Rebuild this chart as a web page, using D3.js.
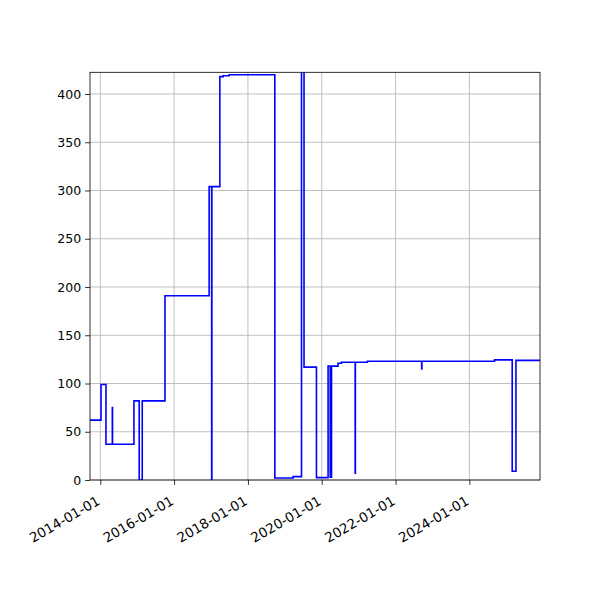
<!DOCTYPE html>
<html>
<head>
<meta charset="utf-8">
<script src="https://cdn.jsdelivr.net/npm/d3@7"></script>
<style>
  body { margin: 0; background: #fff; }
  text { font-family: "DejaVu Sans", sans-serif; }
</style>
</head>
<body>
<svg></svg>
<script>
// data (step series)
const dates = [
    '2013-09-01', '2014-01-08', '2014-02-26', '2014-04-30', '2014-05-02',
    '2014-11-30', '2015-01-21', '2015-02-20', '2015-10-03', '2016-12-13',
    '2017-01-07', '2017-01-09', '2017-03-29', '2017-05-01', '2017-06-29',
    '2018-09-24', '2019-03-24', '2019-06-15', '2019-07-10', '2019-11-10',
    '2020-03-04', '2020-03-25', '2020-04-07', '2020-06-10', '2020-07-14',
    '2020-11-27', '2020-11-29', '2021-03-28', '2022-09-16', '2022-09-18',
    '2024-09-06', '2025-02-28', '2025-04-06', '2026-01-01'
];
const values = [
    62, 99, 37, 75, 37,
    82, 0, 82, 191, 304,
    0, 304, 418, 419, 420,
    2, 3.5, 450, 117, 2.5,
    118, 3, 118, 121, 122,
    7, 122, 123, 115, 123,
    124.5, 9, 124, 124
];
const xTickLabels = ['2014-01-01', '2016-01-01', '2018-01-01', '2020-01-01', '2022-01-01', '2024-01-01'];
const yTickValues = [0, 50, 100, 150, 200, 250, 300, 350, 400];
const xDomain = ['2013-09-21', '2025-11-30'];
const yDomain = [0, 422.5];

const margin = {t: 72.3, r: 60, b: 120, l: 90};
const size = {w: 600, h: 600};
const innerW = size.w - margin.l - margin.r;
const innerH = size.h - margin.t - margin.b;

const parse = d3.utcParse('%Y-%m-%d');
const svg = d3.select('svg')
    .attr('width', size.w)
    .attr('height', size.h);

const x = d3.scaleUtc()
    .domain(xDomain.map(parse))
    .range([0, innerW]);
const y = d3.scaleLinear()
    .domain(yDomain)
    .range([innerH, 0]);

const g = svg.append('g')
    .attr('transform', `translate(${margin.l},${margin.t})`);

g.append('clipPath').attr('id', 'clip')
    .append('rect')
    .attr('width', innerW)
    .attr('height', innerH);

// grid
const xTicks = xTickLabels.map(parse);
g.append('g').selectAll('line.vx')
    .data(xTicks)
    .join('line')
    .attr('x1', d => x(d)).attr('x2', d => x(d))
    .attr('y1', 0).attr('y2', innerH)
    .attr('stroke', '#b0b0b0')
    .attr('stroke-width', 0.8);
g.append('g').selectAll('line.hy')
    .data(yTickValues)
    .join('line')
    .attr('x1', 0).attr('x2', innerW)
    .attr('y1', d => y(d)).attr('y2', d => y(d))
    .attr('stroke', '#b0b0b0')
    .attr('stroke-width', 0.8);

// series
const series = dates.map((d, i) => ({date: parse(d), value: values[i]}));
const line = d3.line()
    .x(d => x(d.date))
    .y(d => y(d.value))
    .curve(d3.curveStepAfter);
g.append('path')
    .datum(series)
    .attr('clip-path', 'url(#clip)')
    .attr('fill', 'none')
    .attr('stroke', '#0000ff')
    .attr('stroke-width', 1.6)
    .attr('stroke-linejoin', 'miter')
    .attr('d', line);

// axes
const yAxis = d3.axisLeft(y)
    .tickValues(yTickValues)
    .tickSize(4.9)
    .tickPadding(4)
    .tickSizeOuter(0);
const yG = g.append('g').call(yAxis);
yG.select('.domain').remove();
yG.selectAll('line').attr('stroke', '#000').attr('stroke-width', 0.8);
yG.selectAll('text')
    .attr('fill', '#000')
    .style('font-size', '12.5px');

const xAxis = d3.axisBottom(x)
    .tickValues(xTicks)
    .tickFormat(d3.utcFormat('%Y-%m-%d'))
    .tickSize(4.9)
    .tickSizeOuter(0);
const xG = g.append('g')
    .attr('transform', `translate(0,${innerH})`)
    .call(xAxis);
xG.select('.domain').remove();
xG.selectAll('line').attr('stroke', '#000').attr('stroke-width', 0.8);
xG.selectAll('text')
    .attr('fill', '#000')
    .style('font-size', '13.5px')
    .attr('text-anchor', 'end')
    .attr('y', 0)
    .attr('dy', '0.75em')
    .attr('transform', 'translate(-5,15) rotate(-30)');

// spines
g.append('rect')
    .attr('width', innerW)
    .attr('height', innerH)
    .attr('fill', 'none')
    .attr('stroke', '#000')
    .attr('stroke-width', 0.8);
</script>
</body>
</html>
